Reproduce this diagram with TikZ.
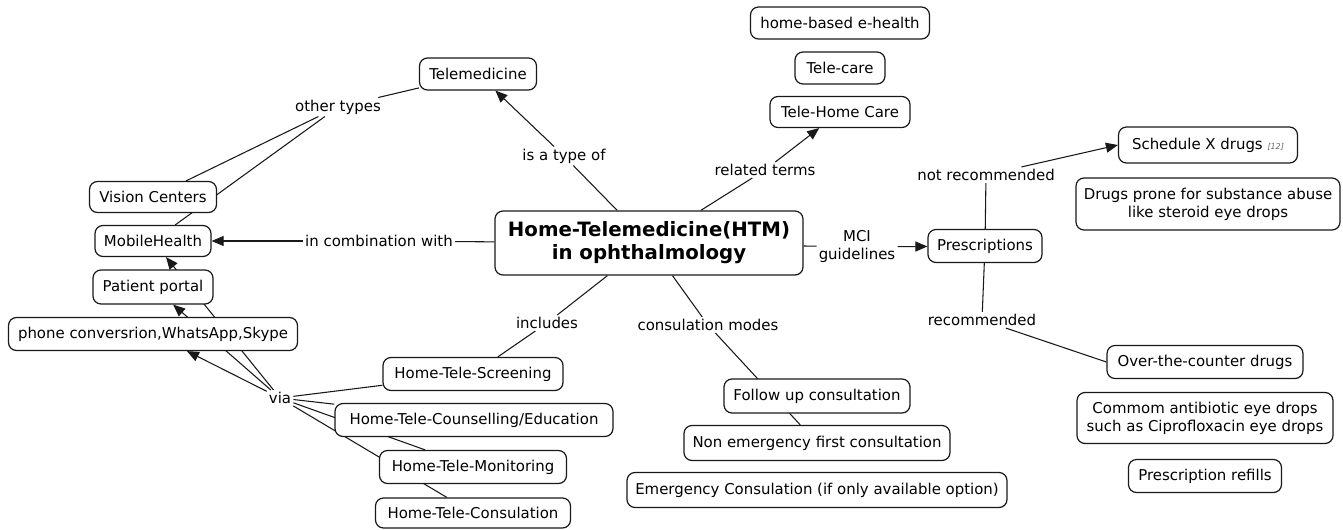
\documentclass[tikz,border=0pt]{standalone}
\usepackage{fontspec}
\setmainfont{DejaVu Sans}
\usetikzlibrary{arrows.meta}
\pgfdeclarelayer{background}
\pgfsetlayers{background,main}
\tikzset{
  cbox/.style={draw=black!90, rounded corners=6pt, fill=white, line width=0.9pt,
    inner sep=0pt, align=center, font=\fontsize{11.2}{13.5}\selectfont},
  sz/.style 2 args={minimum width={#1*0.75pt}, minimum height={#2*0.75pt}},
  lbl/.style={inner sep=1.5pt, align=center, fill=none, font=\fontsize{11.2}{13.5}\selectfont},
  conn/.style={line width=0.8pt, draw=black!90},
  arr/.style={conn, -{Triangle[length=9pt,width=7.5pt]}}
}
\begin{document}
\begin{tikzpicture}[x=0.75pt,y=-0.75pt]
\useasboundingbox (0,0) rectangle (1343,529);
% concepts
\node[cbox,sz={117}{32}] (tele) at (478,74) {Telemedicine};
\node[cbox,sz={179}{32}] (hbe) at (840,23) {home-based e-health};
\node[cbox,sz={90}{32}] (tcare) at (840,68) {Tele-care};
\node[cbox,sz={140}{31}] (thc) at (840,112) {Tele-Home Care};
\node[cbox,sz={308}{64},font=\fontsize{14.8}{17.3}\selectfont\bfseries] (main) at (649,243) {Home-Telemedicine(HTM)\\in ophthalmology};
\node[cbox,sz={127}{31}] (vc) at (153,197) {Vision Centers};
\node[cbox,sz={116}{31}] (mh) at (153,241) {MobileHealth};
\node[cbox,sz={120}{34}] (pp) at (153,287) {Patient portal};
\node[cbox,sz={289}{33}] (phone) at (153,334) {phone conversrion,WhatsApp,Skype};
\node[cbox,sz={180}{33}] (scr) at (473,374) {Home-Tele-Screening};
\node[cbox,sz={278}{33}] (cou) at (474,420) {Home-Tele-Counselling/Education};
\node[cbox,sz={187}{33}] (mon) at (473,467) {Home-Tele-Monitoring};
\node[cbox,sz={195}{30}] (con) at (473,513) {Home-Tele-Consulation};
\node[cbox,sz={186}{34}] (fu) at (817,396) {Follow up consultation};
\node[cbox,sz={266}{35}] (ne) at (817,443) {Non emergency first consultation};
\node[cbox,sz={380}{35}] (em) at (817,490) {Emergency Consulation (if only available option)};
\node[cbox,sz={114}{33}] (pres) at (985,246) {Prescriptions};
\node[cbox,sz={179}{36}] (sx) at (1208,145) {Schedule X drugs {\fontsize{6}{7}\selectfont\itshape\color{black!60}[12]}};
\node[cbox,sz={264}{52}] (dp) at (1208,204) {Drugs prone for substance abuse\\like steroid eye drops};
\node[cbox,sz={196}{33}] (otc) at (1205,362) {Over-the-counter drugs};
\node[cbox,sz={256}{51}] (cab) at (1205,418) {Commom antibiotic eye drops\\such as Ciprofloxacin eye drops};
\node[cbox,sz={153}{33}] (pr) at (1205,476) {Prescription refills};
% linking phrases
\node[lbl] (lother) at (338,107) {other types};
\node[lbl] (ltype) at (564,156) {is a type of};
\node[lbl] (lrel) at (765,170) {related terms};
\node[lbl] (lcomb) at (379,241) {in combination with};
\node[lbl] (lmci) at (857,247) {MCI\\guidelines};
\node[lbl] (lnot) at (986,175) {not recommended};
\node[lbl] (lrec) at (982,320) {recommended};
\node[lbl] (lincl) at (547,323) {includes};
\node[lbl] (lmodes) at (708,325) {consulation modes};
\node[lbl] (lvia) at (280,398) {via};
% connectors
\begin{pgfonlayer}{background}
\draw[conn] (main) -- (ltype);
\draw[arr] (ltype) -- (tele);
\draw[conn] (main) -- (lrel);
\draw[arr] (lrel) -- (thc);
\draw[conn] (main) -- (lcomb);
\draw[arr] (lcomb) -- (mh);
\draw[conn] (main) -- (lmci);
\draw[arr] (lmci) -- (pres);
\draw[conn] (main) -- (lincl);
\draw[conn] (lincl) -- (scr);
\draw[conn] (main) -- (lmodes);
\draw[conn] (lmodes) -- (ne);
\draw[conn] (tele) -- (lother);
\draw[conn] (lother) -- (vc);
\draw[conn] (lother) -- (mh);
\draw[conn] (pres) -- (lnot);
\draw[arr] (lnot) -- (sx.west);
\draw[conn] (pres) -- (lrec);
\draw[conn] (lrec) -- (otc.west);
\draw[conn] (scr) -- (lvia);
\draw[conn] (cou) -- (lvia);
\draw[conn] (mon) -- (lvia);
\draw[conn] (con) -- (lvia);
\draw[arr] (lvia) -- (phone);
\draw[arr] (lvia) -- (pp);
\draw[arr] (lvia) -- (mh);
\end{pgfonlayer}
\end{tikzpicture}
\end{document}
